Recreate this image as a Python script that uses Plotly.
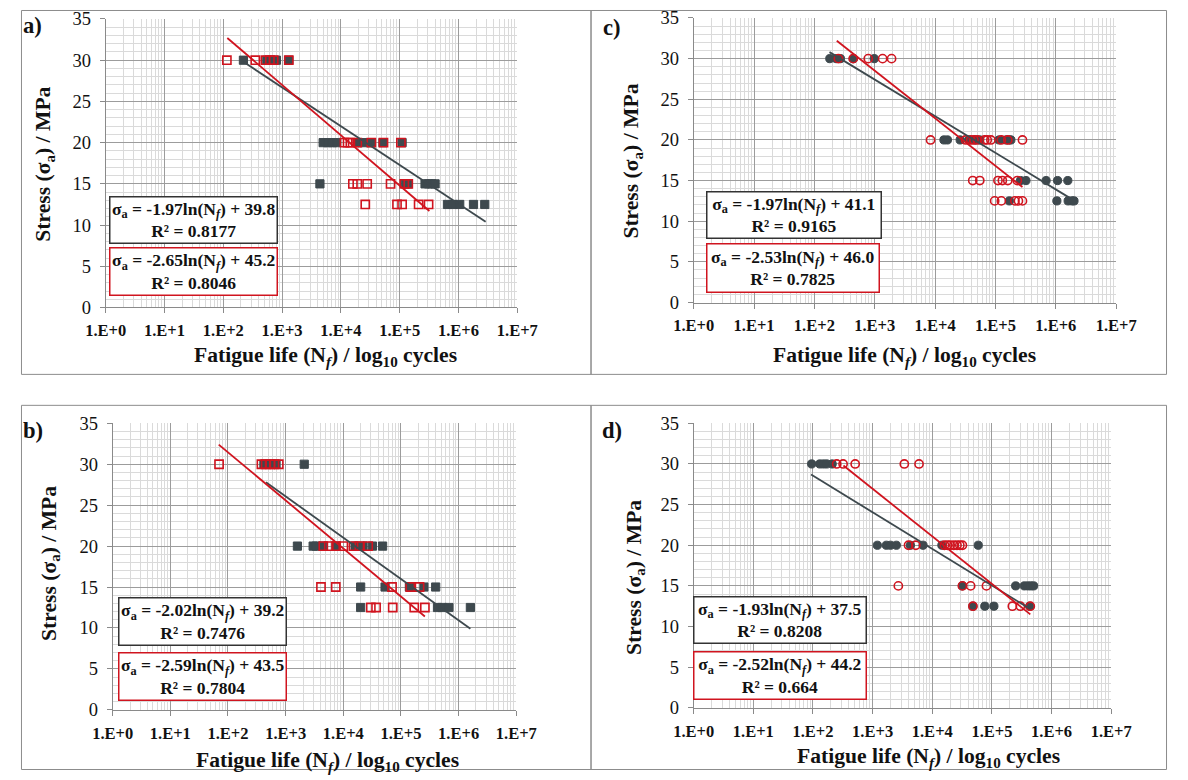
import plotly.graph_objects as go

W, H = 1188, 780
FONT = "Liberation Serif"
GRAY = "#3e494e"
RED = "#d0141f"

# ---------------- data ----------------
a_gray_N = [2.2e2, 5.5e2, 6.5e2, 8.0e2, 1.3e3,
            5.0e3, 6.0e3, 7.2e3, 8.5e3, 1.9e4, 2.5e4, 3.3e4, 5.2e4, 1.1e5,
            4.4e3, 1.25e5, 1.4e5, 2.7e5, 3.1e5, 3.5e5, 4.0e5,
            6.5e5, 8.0e5, 1.05e6, 1.8e6, 2.8e6]
a_gray_S = [30, 30, 30, 30, 30,
            20, 20, 20, 20, 20, 20, 20, 20, 20,
            15, 15, 15, 15, 15, 15, 15,
            12.5, 12.5, 12.5, 12.5, 12.5]
a_red_N = [1.15e2, 3.5e2, 5.2e2, 6.2e2, 7.2e2, 1.3e3,
           1.15e4, 1.3e4, 1.45e4, 1.9e4, 3.3e4, 5.3e4, 1.05e5,
           1.6e4, 1.9e4, 2.8e4, 7.0e4, 1.2e5, 1.4e5,
           2.6e4, 9.0e4, 1.1e5, 2.1e5, 3.1e5]
a_red_S = [30, 30, 30, 30, 30, 30,
           20, 20, 20, 20, 20, 20, 20,
           15, 15, 15, 15, 15, 15,
           12.5, 12.5, 12.5, 12.5, 12.5]
a_gray_fit_N = [2.2e2, 2.9e6]
a_gray_fit_S = [29.8, 10.4]
a_red_fit_N = [1.17e2, 3.2e5]
a_red_fit_S = [32.7, 11.7]

b_gray_N = [4.2e2, 5.6e2, 6.8e2, 2.1e3,
            1.6e3, 3.0e3, 3.4e3, 4.4e3, 7.5e3, 1.6e4, 2.2e4, 3.2e4, 4.8e4,
            2.0e4, 5.3e4, 1.4e5, 2.5e5, 4.0e5,
            2.0e4, 4.3e5, 5.2e5, 6.8e5, 1.6e6]
b_gray_S = [30, 30, 30, 30,
            20, 20, 20, 20, 20, 20, 20, 20, 20,
            15, 15, 15, 15, 15,
            12.5, 12.5, 12.5, 12.5, 12.5]
b_red_N = [70, 3.8e2, 4.5e2, 5.4e2, 6.4e2, 7.6e2,
           4.5e3, 5.6e3, 7.5e3, 1.0e4, 1.5e4, 1.9e4, 2.7e4,
           4.1e3, 7.4e3, 7.0e4, 1.45e5, 2.1e5,
           3.0e4, 3.7e4, 7.2e4, 1.7e5, 2.6e5]
b_red_S = [30, 30, 30, 30, 30, 30,
           20, 20, 20, 20, 20, 20, 20,
           15, 15, 15, 15, 15,
           12.5, 12.5, 12.5, 12.5, 12.5]
b_gray_fit_N = [4.55e2, 1.6e6]
b_gray_fit_S = [27.8, 9.9]
b_red_fit_N = [69, 2.6e5]
b_red_fit_S = [32.4, 11.4]

c_gray_N = [1.8e2, 2.3e2, 2.7e2, 4.4e2, 9.8e2,
            1.4e4, 1.6e4, 2.6e4, 3.6e4, 4.6e4, 5.5e4, 1.15e5, 1.5e5, 1.7e5, 1.8e5,
            2.6e5, 3.2e5, 6.9e5, 1.07e6, 1.58e6,
            1.7e5, 1.04e6, 1.6e6, 1.85e6, 2.0e6]
c_gray_S = [30, 30, 30, 30, 30,
            20, 20, 20, 20, 20, 20, 20, 20, 20, 20,
            15, 15, 15, 15, 15,
            12.5, 12.5, 12.5, 12.5, 12.5]
c_red_N = [2.5e2, 4.4e2, 7.8e2, 1.35e3, 1.9e3,
           8.4e3, 3.2e4, 3.9e4, 4.4e4, 5.0e4, 6.6e4, 7.3e4, 8.4e4, 1.25e5, 1.6e5, 2.8e5,
           4.2e4, 5.5e4, 1.1e5, 1.3e5, 1.6e5, 2.3e5,
           9.7e4, 1.25e5, 2.1e5, 2.4e5, 2.8e5]
c_red_S = [30, 30, 30, 30, 30,
           20, 20, 20, 20, 20, 20, 20, 20, 20, 20, 20,
           15, 15, 15, 15, 15, 15,
           12.5, 12.5, 12.5, 12.5, 12.5]
c_gray_fit_N = [1.78e2, 1.67e6]
c_gray_fit_S = [30.8, 12.9]
c_red_fit_N = [2.35e2, 2.8e5]
c_red_fit_S = [32.2, 14.2]

d_gray_N = [95, 1.3e2, 1.5e2, 1.7e2, 2.1e2,
            1.2e3, 1.7e3, 2.0e3, 2.5e3, 4.3e3, 7.0e3, 1.45e4, 5.9e4,
            3.2e4, 2.5e5, 3.5e5, 4.0e5, 4.5e5, 5.0e5,
            4.8e4, 7.6e4, 1.08e5, 4.3e5]
d_gray_S = [30, 30, 30, 30, 30,
            20, 20, 20, 20, 20, 20, 20, 20,
            15, 15, 15, 15, 15, 15,
            12.5, 12.5, 12.5, 12.5]
d_red_N = [2.5e2, 3.2e2, 5.1e2, 3.4e3, 6.0e3,
           4.0e3, 5.3e3, 1.6e4, 1.8e4, 2.0e4, 2.3e4, 2.6e4, 2.9e4, 3.2e4,
           2.7e3, 3.2e4, 4.4e4, 8.1e4,
           4.8e4, 2.2e5, 3.0e5, 4.4e5]
d_red_S = [30, 30, 30, 30, 30,
           20, 20, 20, 20, 20, 20, 20, 20, 20,
           15, 15, 15, 15,
           12.5, 12.5, 12.5, 12.5]
d_gray_fit_N = [93, 4.3e5]
d_gray_fit_S = [28.7, 12.2]
d_red_fit_N = [3.24e2, 4.4e5]
d_red_fit_S = [29.8, 11.5]

a_eq = ["σ<sub>a</sub> = -1.97ln(N<sub><i>f</i></sub>) + 39.8<br>R² = 0.8177",
        "σ<sub>a</sub> = -2.65ln(N<sub><i>f</i></sub>) + 45.2<br>R² = 0.8046"]
b_eq = ["σ<sub>a</sub> = -2.02ln(N<sub><i>f</i></sub>) + 39.2<br>R² = 0.7476",
        "σ<sub>a</sub> = -2.59ln(N<sub><i>f</i></sub>) + 43.5<br>R² = 0.7804"]
c_eq = ["σ<sub>a</sub> = -1.97ln(N<sub><i>f</i></sub>) + 41.1<br>R² = 0.9165",
        "σ<sub>a</sub> = -2.53ln(N<sub><i>f</i></sub>) + 46.0<br>R² = 0.7825"]
d_eq = ["σ<sub>a</sub> = -1.93ln(N<sub><i>f</i></sub>) + 37.5<br>R² = 0.8208",
        "σ<sub>a</sub> = -2.52ln(N<sub><i>f</i></sub>) + 44.2<br>R² = 0.664"]

x_tick_vals = [1, 10, 100, 1e3, 1e4, 1e5, 1e6, 1e7]
x_tick_text = ["1.E+0", "1.E+1", "1.E+2", "1.E+3", "1.E+4", "1.E+5", "1.E+6", "1.E+7"]

# ---------------- layout geometry (pixels in the reference picture) ----------------
panels = [
    dict(lab="a)", gN=a_gray_N, gS=a_gray_S, rN=a_red_N, rS=a_red_S,
         gf=(a_gray_fit_N, a_gray_fit_S), rf=(a_red_fit_N, a_red_fit_S), eq=a_eq,
         sym="square", x0=103, x7=516, y0=307, y35=18, border=(7, 3, 590, 374),
         labpos=(30, 25), ytit=(42, 163), xtit=(324, 356),
         box1=(110, 196, 273, 242), box2=(110, 247, 273, 294)),
    dict(lab="b)", gN=b_gray_N, gS=b_gray_S, rN=b_red_N, rS=b_red_S,
         gf=(b_gray_fit_N, b_gray_fit_S), rf=(b_red_fit_N, b_red_fit_S), eq=b_eq,
         sym="square", x0=110, x7=515, y0=710, y35=423, border=(7, 405, 590, 778),
         labpos=(30, 430), ytit=(47, 563), xtit=(326, 762),
         box1=(119, 598, 282, 645), box2=(119, 653, 282, 700)),
    dict(lab="c)", gN=c_gray_N, gS=c_gray_S, rN=c_red_N, rS=c_red_S,
         gf=(c_gray_fit_N, c_gray_fit_S), rf=(c_red_fit_N, c_red_fit_S), eq=c_eq,
         sym="circle", x0=693, x7=1117, y0=302, y35=17, border=(590, 3, 1186, 374),
         labpos=(611, 27), ytit=(632, 160), xtit=(905, 356),
         box1=(709, 191, 878, 237), box2=(709, 243, 876, 291)),
    dict(lab="d)", gN=d_gray_N, gS=d_gray_S, rN=d_red_N, rS=d_red_S,
         gf=(d_gray_fit_N, d_gray_fit_S), rf=(d_red_fit_N, d_red_fit_S), eq=d_eq,
         sym="circle", x0=693, x7=1112, y0=708, y35=423, border=(590, 405, 1186, 777),
         labpos=(611, 430), ytit=(634, 577), xtit=(929, 758),
         box1=(696, 597, 863, 643), box2=(696, 652, 863, 699)),
]

# the photographed page shows the figure slightly inset and scaled;
# map reference-picture pixels to figure pixels accordingly
OX, OY, SX, SY = 18.0, 9.0, 0.968, 0.976
S = (SX + SY) / 2

def fxp(x):
    return min(max((x - OX) / SX, 0.5), W - 0.5)

def fyp(y):
    return min(max((y - OY) / SY, 0.5), H - 0.5)

def px(x):
    return fxp(x) / W

def py(y):
    return 1 - fyp(y) / H

def fs(v):
    return round(v / S, 1)

fig = go.Figure()
annotations = []
shapes = []
layout_axes = {}

for i, p in enumerate(panels, start=1):
    xa = "x" if i == 1 else f"x{i}"
    ya = "y" if i == 1 else f"y{i}"
    sfx = "" if i == 1 else str(i)
    fig.add_trace(go.Scatter(
        x=p["gN"], y=p["gS"], mode="markers", xaxis=xa, yaxis=ya,
        marker=dict(symbol=p["sym"], size=fs(8), color=GRAY, line=dict(color=GRAY, width=1)),
        showlegend=False, hoverinfo="skip"))
    fig.add_trace(go.Scatter(
        x=p["rN"], y=p["rS"], mode="markers", xaxis=xa, yaxis=ya,
        marker=dict(symbol=p["sym"] + "-open", size=fs(8), color=RED, line=dict(color=RED, width=1.6)),
        showlegend=False, hoverinfo="skip"))
    fig.add_trace(go.Scatter(
        x=p["gf"][0], y=p["gf"][1], mode="lines", xaxis=xa, yaxis=ya,
        line=dict(color=GRAY, width=1.8), showlegend=False, hoverinfo="skip"))
    fig.add_trace(go.Scatter(
        x=p["rf"][0], y=p["rf"][1], mode="lines", xaxis=xa, yaxis=ya,
        line=dict(color=RED, width=1.8), showlegend=False, hoverinfo="skip"))

    common = dict(showline=True, linecolor="#8a8a8a", linewidth=1,
                  ticks="outside", ticklen=5, tickcolor="#8a8a8a",
                  zeroline=False, fixedrange=True,
                  showgrid=True, gridcolor="#9c9c9c", gridwidth=1)
    layout_axes["xaxis" + sfx] = dict(
        type="log", range=[0, 7], domain=[px(p["x0"]), px(p["x7"])], anchor=ya,
        tickmode="array", tickvals=x_tick_vals, ticktext=x_tick_text,
        tickfont=dict(family=FONT, size=fs(16), color="#111", weight="bold"),
        minor=dict(dtick="D1", showgrid=True, gridcolor="#dadada", gridwidth=1, ticks=""),
        ticklabelstandoff=3, **common)
    layout_axes["yaxis" + sfx] = dict(
        range=[0, 35], domain=[py(p["y0"]), py(p["y35"])], anchor=xa,
        tickmode="linear", tick0=0, dtick=5,
        tickfont=dict(family=FONT, size=fs(18), color="#111"),
        minor=dict(dtick=1, showgrid=True, gridcolor="#dadada", gridwidth=1, ticks=""),
        ticklabelstandoff=5, **common)

    bx0, by0, bx1, by1 = p["border"]
    shapes.append(dict(type="rect", xref="paper", yref="paper",
                       x0=px(bx0), x1=px(bx1), y0=py(by1), y1=py(by0),
                       line=dict(color="#8c8c8c", width=1), layer="below"))
    annotations.append(dict(text=p["lab"], x=px(p["labpos"][0]), y=py(p["labpos"][1]),
                            xref="paper", yref="paper", showarrow=False,
                            xanchor="center", yanchor="middle",
                            font=dict(family=FONT, size=fs(22), color="#111", weight="bold")))
    annotations.append(dict(text="Stress (σ<sub>a</sub>) / MPa",
                            x=px(p["ytit"][0]), y=py(p["ytit"][1]), textangle=-90,
                            xref="paper", yref="paper", showarrow=False,
                            xanchor="center", yanchor="middle",
                            font=dict(family=FONT, size=fs(21), color="#111", weight="bold")))
    annotations.append(dict(text="Fatigue life (N<sub><i>f</i></sub>) / log<sub>10</sub> cycles",
                            x=px(p["xtit"][0]), y=py(p["xtit"][1]),
                            xref="paper", yref="paper", showarrow=False,
                            xanchor="center", yanchor="middle",
                            font=dict(family=FONT, size=fs(21), color="#111", weight="bold")))
    for box, col, txt in ((p["box1"], "#333333", p["eq"][0]), (p["box2"], RED, p["eq"][1])):
        x0, y0, x1, y1 = box
        annotations.append(dict(text=txt,
                                x=px((x0 + x1) / 2), y=py((y0 + y1) / 2),
                                xref="paper", yref="paper", showarrow=False,
                                xanchor="center", yanchor="middle",
                                width=(x1 - x0) / SX - 4, height=(y1 - y0) / SY - 4, borderpad=1,
                                bordercolor=col, borderwidth=1.5, bgcolor="white",
                                align="center",
                                font=dict(family=FONT, size=fs(17), color="#111", weight="bold")))

fig.update_layout(
    width=W, height=H, margin=dict(l=0, r=0, t=0, b=0),
    paper_bgcolor="white", plot_bgcolor="white",
    annotations=annotations, shapes=shapes, **layout_axes)

fig.write_html("out.html", config={"displayModeBar": False},
               post_script="document.body.style.margin='0';")
